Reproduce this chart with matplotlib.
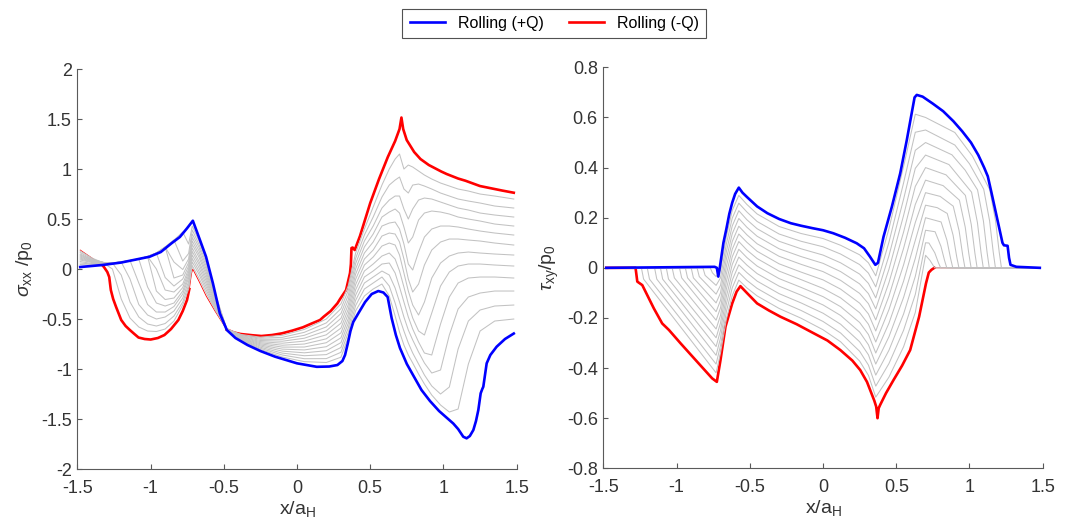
import numpy as np
import matplotlib
matplotlib.use('Agg')
import matplotlib.pyplot as plt

plt.rcParams['font.family'] = ['Liberation Sans', 'DejaVu Sans']
plt.rcParams['mathtext.fontset'] = 'custom'
plt.rcParams['mathtext.rm'] = 'Liberation Sans'
plt.rcParams['mathtext.it'] = 'Liberation Sans:italic'
plt.rcParams['mathtext.sf'] = 'Liberation Sans'
plt.rcParams['axes.unicode_minus'] = False

###########################################################################
# Axis ticks

x_ticks = [-1.5, -1.0, -0.5, 0.0, 0.5, 1.0, 1.5]
x_tick_labels = ['-1.5', '-1', '-0.5', '0', '0.5', '1', '1.5']
sxx_ticks = [-2.0, -1.5, -1.0, -0.5, 0.0, 0.5, 1.0, 1.5, 2.0]
sxx_tick_labels = ['-2', '-1.5', '-1', '-0.5', '0', '0.5', '1', '1.5', '2']
txy_ticks = [-0.8, -0.6, -0.4, -0.2, 0.0, 0.2, 0.4, 0.6, 0.8]
txy_tick_labels = ['-0.8', '-0.6', '-0.4', '-0.2', '0', '0.2', '0.4', '0.6', '0.8']

###########################################################################
# sigma_xx / p0 : rolling +Q (blue), rolling -Q (red)

sxx_blue_x = [-1.48, -1.33, -1.20, -1.006, -0.93, -0.857, -0.80, -0.751, -0.711, -0.665,
              -0.621, -0.574, -0.527, -0.479, -0.42, -0.338, -0.25, -0.149, 0.0, 0.135,
              0.22, 0.276, 0.31, 0.328, 0.347, 0.365, 0.384, 0.42, 0.465, 0.51,
              0.555, 0.59, 0.619, 0.646, 0.675, 0.703, 0.75, 0.796, 0.85, 0.908,
              0.97, 1.067, 1.10, 1.135, 1.158, 1.18, 1.204, 1.222, 1.238, 1.254,
              1.265, 1.272, 1.295, 1.32, 1.363, 1.42, 1.48]
sxx_blue_y = [0.02, 0.04, 0.065, 0.123, 0.17, 0.257, 0.32, 0.407, 0.483, 0.30,
              0.123, -0.143, -0.443, -0.61, -0.69, -0.76, -0.82, -0.877, -0.943, -0.978,
              -0.975, -0.96, -0.92, -0.86, -0.743, -0.62, -0.53, -0.44, -0.33, -0.25,
              -0.22, -0.235, -0.28, -0.49, -0.66, -0.79, -0.95, -1.07, -1.21, -1.32,
              -1.42, -1.545, -1.60, -1.677, -1.693, -1.67, -1.61, -1.52, -1.41, -1.243,
              -1.20, -1.177, -0.943, -0.86, -0.777, -0.70, -0.645]

sxx_red_x = [-1.48, -1.42, -1.37, -1.33, -1.318, -1.295, -1.282, -1.271, -1.255, -1.235,
             -1.20, -1.17, -1.141, -1.11, -1.082, -1.04, -0.999, -0.95, -0.905, -0.86,
             -0.81, -0.78, -0.751, -0.735, -0.72, -0.712, -0.67, -0.62, -0.56, -0.48,
             -0.43, -0.385, -0.30, -0.243, -0.17, -0.102, -0.03, 0.04, 0.10, 0.157,
             0.182, 0.23, 0.276, 0.294, 0.335, 0.362, 0.368, 0.372, 0.38, 0.394,
             0.43, 0.50, 0.56, 0.62, 0.67, 0.70, 0.713, 0.725, 0.749, 0.80,
             0.843, 0.90, 0.985, 1.022, 1.10, 1.15, 1.249, 1.316, 1.40, 1.48]
sxx_red_y = [0.19, 0.13, 0.08, 0.04, 0.02, -0.03, -0.08, -0.21, -0.30, -0.38,
             -0.51, -0.57, -0.61, -0.65, -0.685, -0.70, -0.705, -0.69, -0.66, -0.60,
             -0.51, -0.42, -0.31, -0.20, -0.045, 0.0, -0.12, -0.27, -0.42, -0.605,
             -0.635, -0.65, -0.663, -0.67, -0.66, -0.643, -0.615, -0.583, -0.545, -0.51,
             -0.477, -0.42, -0.343, -0.30, -0.21, -0.04, 0.05, 0.21, 0.215, 0.19,
             0.33, 0.66, 0.90, 1.12, 1.28, 1.40, 1.515, 1.40, 1.29, 1.17,
             1.10, 1.04, 0.975, 0.95, 0.905, 0.883, 0.83, 0.81, 0.785, 0.763]

# intermediate load steps (grey), sampled at common x stations
sxx_gray_x = [-1.48, -1.40, -1.32, -1.26, -1.20, -1.14, -1.08, -1.02, -0.96, -0.90,
              -0.84, -0.78, -0.74, -0.715,
              -0.67, -0.62, -0.56, -0.48,
              -0.38, -0.25, -0.10, 0.05, 0.20, 0.30,
              0.35, 0.40, 0.46, 0.52,
              0.58, 0.63, 0.67, 0.70, 0.73, 0.76, 0.79, 0.83, 0.87, 0.92,
              0.98, 1.04, 1.10, 1.17, 1.25, 1.35, 1.48]
sxx_gray_y = [
    [0.18, 0.11, 0.06, 0.0, -0.30, -0.49, -0.58, -0.62, -0.625, -0.60, -0.52, -0.36, -0.20, 0.035,
     -0.09, -0.24, -0.405, -0.60,
     -0.655, -0.681, -0.663, -0.604, -0.500, -0.348,
     -0.167, 0.158, 0.40, 0.62,
     0.84, 1.00, 1.10, 1.15, 1.00, 1.04, 1.02, 0.98, 0.94, 0.90, 0.86, 0.83, 0.80, 0.78, 0.75, 0.73, 0.70],
    [0.165, 0.10, 0.065, 0.06, -0.06, -0.33, -0.48, -0.55, -0.57, -0.545, -0.47, -0.33, -0.16, 0.07,
     -0.05, -0.21, -0.39, -0.60,
     -0.661, -0.692, -0.683, -0.633, -0.539, -0.397,
     -0.214, 0.105, 0.34, 0.52,
     0.72, 0.84, 0.89, 0.92, 0.80, 0.76, 0.84, 0.85, 0.83, 0.80, 0.76, 0.73, 0.70, 0.68, 0.66, 0.63, 0.61],
    [0.15, 0.095, 0.065, 0.06, 0.07, -0.10, -0.355, -0.46, -0.50, -0.48, -0.42, -0.29, -0.125, 0.105,
     -0.02, -0.18, -0.375, -0.60,
     -0.666, -0.703, -0.702, -0.663, -0.579, -0.445,
     -0.261, 0.053, 0.28, 0.43,
     0.61, 0.69, 0.73, 0.73, 0.60, 0.50, 0.60, 0.69, 0.71, 0.70, 0.67, 0.64, 0.61, 0.59, 0.56, 0.54, 0.52],
    [0.14, 0.09, 0.065, 0.06, 0.07, 0.085, -0.14, -0.355, -0.43, -0.43, -0.375, -0.25, -0.09, 0.14,
     0.015, -0.15, -0.36, -0.60,
     -0.672, -0.715, -0.722, -0.692, -0.618, -0.494,
     -0.308, 0.0, 0.22, 0.35,
     0.52, 0.57, 0.60, 0.56, 0.42, 0.26, 0.32, 0.49, 0.56, 0.58, 0.57, 0.55, 0.52, 0.50, 0.48, 0.45, 0.43],
    [0.13, 0.085, 0.065, 0.06, 0.07, 0.085, 0.10, -0.18, -0.34, -0.37, -0.34, -0.22, -0.06, 0.175,
     0.05, -0.12, -0.345, -0.60,
     -0.677, -0.726, -0.742, -0.721, -0.658, -0.542,
     -0.355, -0.052, 0.16, 0.27,
     0.43, 0.46, 0.47, 0.40, 0.25, 0.05, -0.01, 0.17, 0.32, 0.40, 0.43, 0.43, 0.42, 0.40, 0.38, 0.36, 0.34],
    [0.12, 0.08, 0.065, 0.06, 0.07, 0.085, 0.10, 0.125, -0.22, -0.305, -0.29, -0.185, -0.03, 0.21,
     0.08, -0.09, -0.33, -0.60,
     -0.682, -0.737, -0.762, -0.750, -0.698, -0.591,
     -0.402, -0.104, 0.10, 0.19,
     0.33, 0.36, 0.35, 0.27, 0.10, -0.10, -0.23, -0.15, 0.04, 0.19, 0.27, 0.30, 0.30, 0.29, 0.28, 0.26, 0.24],
    [0.11, 0.075, 0.06, 0.06, 0.07, 0.085, 0.10, 0.125, 0.0, -0.21, -0.23, -0.15, 0.0, 0.245,
     0.12, -0.06, -0.31, -0.60,
     -0.688, -0.748, -0.781, -0.780, -0.737, -0.639,
     -0.448, -0.157, 0.04, 0.12,
     0.23, 0.26, 0.24, 0.14, -0.04, -0.22, -0.36, -0.46, -0.33, -0.09, 0.06, 0.13, 0.16, 0.17, 0.16, 0.15, 0.14],
    [0.10, 0.07, 0.06, 0.06, 0.07, 0.085, 0.10, 0.125, 0.16, -0.085, -0.17, -0.10, 0.03, 0.28,
     0.15, -0.03, -0.295, -0.60,
     -0.693, -0.759, -0.801, -0.809, -0.777, -0.688,
     -0.495, -0.209, -0.02, 0.05,
     0.13, 0.16, 0.10, -0.02, -0.18, -0.35, -0.49, -0.62, -0.66, -0.44, -0.17, -0.03, 0.03, 0.05, 0.05, 0.04, 0.03],
    [0.09, 0.065, 0.06, 0.06, 0.07, 0.085, 0.10, 0.125, 0.16, 0.22, -0.09, -0.06, 0.065, 0.315,
     0.185, 0.0, -0.28, -0.60,
     -0.698, -0.770, -0.821, -0.838, -0.817, -0.736,
     -0.542, -0.262, -0.08, -0.02,
     0.05, 0.06, -0.04, -0.18, -0.33, -0.48, -0.60, -0.73, -0.84, -0.86, -0.55, -0.28, -0.14, -0.09, -0.08, -0.08, -0.09],
    [0.075, 0.055, 0.055, 0.06, 0.07, 0.085, 0.10, 0.125, 0.16, 0.22, 0.07, -0.005, 0.10, 0.35,
     0.22, 0.03, -0.265, -0.60,
     -0.704, -0.782, -0.841, -0.867, -0.856, -0.785,
     -0.589, -0.314, -0.14, -0.08,
     -0.02, -0.06, -0.19, -0.33, -0.48, -0.61, -0.71, -0.83, -0.94, -1.04, -1.01, -0.66, -0.40, -0.28, -0.24, -0.22, -0.22],
    [0.06, 0.05, 0.055, 0.06, 0.07, 0.085, 0.10, 0.125, 0.16, 0.22, 0.29, 0.08, 0.155, 0.39,
     0.25, 0.06, -0.25, -0.60,
     -0.709, -0.793, -0.860, -0.897, -0.896, -0.833,
     -0.636, -0.366, -0.20, -0.14,
     -0.08, -0.17, -0.34, -0.49, -0.62, -0.74, -0.84, -0.95, -1.06, -1.17, -1.25, -1.18, -0.80, -0.52, -0.41, -0.37, -0.36],
    [0.045, 0.04, 0.05, 0.055, 0.065, 0.08, 0.10, 0.125, 0.16, 0.22, 0.29, 0.37, 0.25, 0.43,
     0.285, 0.09, -0.235, -0.60,
     -0.714, -0.804, -0.880, -0.926, -0.935, -0.882,
     -0.683, -0.418, -0.27, -0.20,
     -0.15, -0.27, -0.47, -0.63, -0.76, -0.86, -0.94, -1.05, -1.15, -1.26, -1.36, -1.43, -1.40, -0.95, -0.62, -0.52, -0.50],
]

###########################################################################
# tau_xy / p0 : rolling +Q (blue), rolling -Q (red)

txy_blue_x = [-1.48, -0.74, -0.725, -0.715, -0.705, -0.68, -0.66, -0.64, -0.62, -0.60,
              -0.575, -0.55, -0.52, -0.45, -0.38, -0.30, -0.22, -0.15, -0.07, 0.0,
              0.07, 0.15, 0.23, 0.28, 0.32, 0.357, 0.375, 0.413, 0.47, 0.527,
              0.572, 0.60, 0.625, 0.64, 0.68, 0.75, 0.82, 0.89, 0.95, 1.01,
              1.06, 1.10, 1.125, 1.15, 1.18, 1.21, 1.225, 1.235, 1.26, 1.27,
              1.28, 1.32, 1.48]
txy_blue_y = [0.0, 0.004, 0.0, -0.035, 0.0, 0.10, 0.155, 0.215, 0.26, 0.295,
              0.32, 0.30, 0.283, 0.245, 0.218, 0.195, 0.178, 0.168, 0.158, 0.15,
              0.138, 0.12, 0.098, 0.078, 0.045, 0.012, 0.02, 0.124, 0.244, 0.377,
              0.51, 0.60, 0.68, 0.69, 0.683, 0.655, 0.625, 0.585, 0.545, 0.50,
              0.45, 0.40, 0.365, 0.30, 0.22, 0.14, 0.10, 0.09, 0.088, 0.04,
              0.012, 0.004, 0.0]

txy_red_x = [-1.48, -1.28, -1.268, -1.234, -1.20, -1.155, -1.098, -1.052, -0.973, -0.859,
             -0.757, -0.725, -0.70, -0.666, -0.62, -0.59, -0.564, -0.52, -0.45, -0.37,
             -0.291, -0.18, -0.064, 0.03, 0.118, 0.20, 0.254, 0.30, 0.322, 0.35,
             0.363, 0.372, 0.38, 0.39, 0.43, 0.481, 0.54, 0.595, 0.656, 0.703,
             0.722, 0.74, 0.76, 1.48]
txy_red_y = [0.0, 0.0, -0.055, -0.069, -0.109, -0.162, -0.222, -0.248, -0.301, -0.375,
             -0.441, -0.455, -0.368, -0.235, -0.142, -0.095, -0.073, -0.10, -0.142, -0.17,
             -0.195, -0.225, -0.261, -0.29, -0.328, -0.37, -0.408, -0.455, -0.488, -0.53,
             -0.554, -0.60, -0.56, -0.547, -0.50, -0.448, -0.39, -0.328, -0.195, -0.062,
             -0.019, -0.008, 0.0, 0.0]

# grey steps: where each leaves zero, common middle stations, and the tail back to zero
txy_head_x = [[-1.48, -1.24, -1.225], [-1.48, -1.20, -1.185], [-1.48, -1.15, -1.135],
              [-1.48, -1.11, -1.095], [-1.48, -1.07, -1.055], [-1.48, -1.03, -1.015],
              [-1.48, -0.98, -0.965], [-1.48, -0.94, -0.925], [-1.48, -0.90, -0.885],
              [-1.48, -0.86, -0.845], [-1.48, -0.82, -0.805], [-1.48, -0.77, -0.755]]
txy_head_y = [[0, 0, -0.045], [0, 0, -0.045], [0, 0, -0.045], [0, 0, -0.045],
              [0, 0, -0.045], [0, 0, -0.04], [0, 0, -0.04], [0, 0, -0.04],
              [0, 0, -0.04], [0, 0, -0.035], [0, 0, -0.03], [0, 0, -0.02]]
txy_mid_x = [-0.73, -0.70, -0.66, -0.62, -0.575, -0.52, -0.45, -0.30, -0.15, 0.0,
             0.12, 0.25, 0.31, 0.36, 0.45, 0.55, 0.63, 0.70]
txy_mid_y = [
    [-0.419, -0.34, -0.205, -0.111, -0.049, -0.08, -0.112, -0.162, -0.201, -0.247, -0.295, -0.372, -0.429, -0.516, -0.436, -0.315, -0.178, 0.05],
    [-0.384, -0.31, -0.175, -0.080, -0.018, -0.05, -0.082, -0.132, -0.170, -0.214, -0.26, -0.333, -0.388, -0.472, -0.382, -0.249, -0.106, 0.10],
    [-0.349, -0.28, -0.145, -0.049, 0.012, -0.019, -0.053, -0.103, -0.140, -0.181, -0.225, -0.295, -0.347, -0.428, -0.329, -0.184, -0.034, 0.15],
    [-0.314, -0.25, -0.115, -0.018, 0.043, 0.011, -0.023, -0.073, -0.109, -0.148, -0.19, -0.256, -0.307, -0.384, -0.275, -0.118, 0.038, 0.20],
    [-0.279, -0.22, -0.085, 0.013, 0.074, 0.041, 0.007, -0.043, -0.078, -0.115, -0.155, -0.218, -0.266, -0.340, -0.221, -0.053, 0.110, 0.25],
    [-0.244, -0.19, -0.055, 0.044, 0.105, 0.071, 0.037, -0.013, -0.047, -0.082, -0.12, -0.179, -0.225, -0.296, -0.167, 0.012, 0.181, 0.30],
    [-0.209, -0.16, -0.025, 0.074, 0.135, 0.102, 0.066, 0.016, -0.017, -0.048, -0.085, -0.141, -0.184, -0.252, -0.113, 0.078, 0.253, 0.35],
    [-0.175, -0.13, 0.005, 0.105, 0.166, 0.132, 0.096, 0.046, 0.014, -0.015, -0.05, -0.102, -0.143, -0.208, -0.059, 0.143, 0.325, 0.40],
    [-0.140, -0.10, 0.035, 0.136, 0.197, 0.162, 0.126, 0.076, 0.045, 0.018, -0.015, -0.064, -0.103, -0.164, -0.006, 0.209, 0.397, 0.45],
    [-0.105, -0.07, 0.065, 0.167, 0.228, 0.192, 0.156, 0.106, 0.076, 0.051, 0.02, -0.025, -0.062, -0.12, 0.048, 0.274, 0.469, 0.50],
    [-0.070, -0.04, 0.095, 0.198, 0.258, 0.223, 0.185, 0.135, 0.106, 0.084, 0.055, 0.013, -0.021, -0.076, 0.102, 0.339, 0.541, 0.55],
    [-0.035, -0.01, 0.125, 0.229, 0.289, 0.253, 0.215, 0.165, 0.137, 0.117, 0.09, 0.052, 0.02, -0.032, 0.156, 0.405, 0.613, 0.60],
]
txy_tail_x = [[0.73, 0.762, 1.48],
              [0.723, 0.763, 0.788, 0.803, 1.48],
              [0.765, 0.805, 0.83, 0.845, 1.48],
              [0.806, 0.846, 0.871, 0.886, 1.48],
              [0.78, 0.848, 0.888, 0.913, 0.928, 1.48],
              [0.80, 0.889, 0.929, 0.954, 0.969, 1.48],
              [0.82, 0.931, 0.971, 0.996, 1.011, 1.48],
              [0.84, 0.972, 1.012, 1.037, 1.052, 1.48],
              [0.86, 1.014, 1.054, 1.079, 1.094, 1.48],
              [0.88, 0.97, 1.055, 1.095, 1.12, 1.135, 1.48],
              [0.90, 1.00, 1.097, 1.137, 1.162, 1.177, 1.48],
              [0.90, 1.02, 1.138, 1.178, 1.203, 1.218, 1.48]]
txy_tail_y = [[0.03, 0.0, 0.0],
              [0.099, 0.06, 0.02, 0.0, 0.0],
              [0.144, 0.086, 0.029, 0.0, 0.0],
              [0.183, 0.11, 0.037, 0.0, 0.0],
              [0.24, 0.217, 0.13, 0.043, 0.0, 0.0],
              [0.285, 0.246, 0.148, 0.049, 0.0, 0.0],
              [0.328, 0.27, 0.162, 0.054, 0.0, 0.0],
              [0.371, 0.289, 0.173, 0.058, 0.0, 0.0],
              [0.412, 0.302, 0.181, 0.06, 0.0, 0.0],
              [0.451, 0.39, 0.311, 0.187, 0.062, 0.0, 0.0],
              [0.49, 0.415, 0.314, 0.188, 0.063, 0.0, 0.0],
              [0.54, 0.446, 0.312, 0.187, 0.062, 0.0, 0.0]]

###########################################################################
# Plotting

grey = '#c2c2c2'
axis_grey = '#5a5a5a'
text_grey = '#333333'

fig = plt.figure(figsize=(10.72, 5.29), dpi=100)
ax1 = fig.add_axes([0.0721, 0.1134, 0.4099, 0.7561])
ax2 = fig.add_axes([0.5628, 0.1147, 0.4099, 0.7580])

# left: red below the grey family, blue on top
rx = np.array(sxx_red_x)
ry = np.array(sxx_red_y)
thick = (rx >= -1.33) & ((rx <= -0.735) | (rx >= -0.48))
ax1.plot(rx, ry, color='red', lw=0.6)
ax1.plot(rx, np.where(thick, ry, np.nan), color='red', lw=1.9)
for row in sxx_gray_y:
    ax1.plot(sxx_gray_x, row, color=grey, lw=0.75)
blue_line, = ax1.plot(sxx_blue_x, sxx_blue_y, color='blue', lw=1.9, label='Rolling (+Q)')

# right
tx = np.array(txy_red_x)
ty = np.array(txy_red_y)
ax2.plot(tx, ty, color='red', lw=0.6)
red_line, = ax2.plot(tx, np.where(tx <= 0.76, ty, np.nan), color='red', lw=1.9,
                     label='Rolling (-Q)')
for hx, hy, my, tlx, tly in zip(txy_head_x, txy_head_y, txy_mid_y, txy_tail_x, txy_tail_y):
    ax2.plot(hx + txy_mid_x + tlx, hy + my + tly, color=grey, lw=0.75)
ax2.plot(txy_blue_x, txy_blue_y, color='blue', lw=1.9)

for ax, yt, ytl in [(ax1, sxx_ticks, sxx_tick_labels), (ax2, txy_ticks, txy_tick_labels)]:
    ax.set_xlim(-1.5, 1.5)
    ax.set_ylim(yt[0], yt[-1])
    ax.set_xticks(x_ticks)
    ax.set_xticklabels(x_tick_labels)
    ax.set_yticks(yt)
    ax.set_yticklabels(ytl)
    ax.spines['top'].set_visible(False)
    ax.spines['right'].set_visible(False)
    for s in ['left', 'bottom']:
        ax.spines[s].set_color(axis_grey)
        ax.spines[s].set_linewidth(0.8)
    ax.tick_params(direction='in', length=3.5, width=0.8, color=axis_grey,
                   labelcolor=text_grey, labelsize=13)
    ax.tick_params(axis='x', pad=8)
    ax.tick_params(axis='y', pad=4)
    ax.set_xlabel(r'x/a$_{\rm H}$', fontsize=14, color=text_grey, labelpad=1)

ax1.set_ylabel(r'$\sigma_{\rm xx}$ /p$_0$', fontsize=14, color=text_grey, labelpad=4)
ax2.set_ylabel(r'$\tau_{\rm xy}$/p$_0$', fontsize=14, color=text_grey, labelpad=4)

leg = fig.legend(handles=[blue_line, red_line], loc='center', bbox_to_anchor=(0.517, 0.956),
                 ncol=2, fontsize=11.5, frameon=True, fancybox=False, edgecolor='#262626',
                 handlelength=2.2, columnspacing=1.6, borderpad=0.45, handletextpad=0.8)
leg.get_frame().set_linewidth(0.8)

fig.savefig('out.png', dpi=100)
